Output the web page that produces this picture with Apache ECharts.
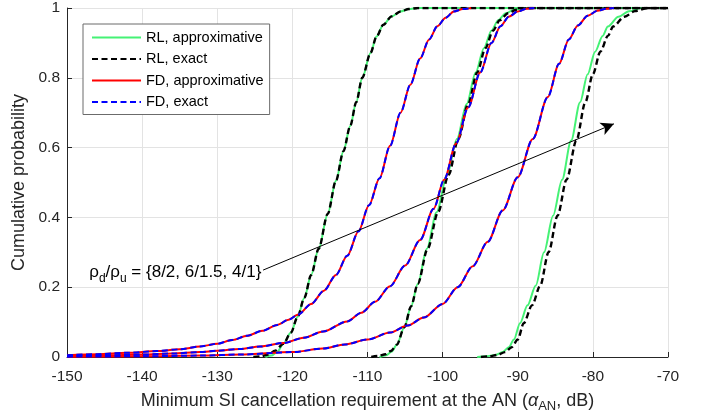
<!DOCTYPE html>
<html>
<head>
<meta charset="utf-8">
<script src="https://cdn.jsdelivr.net/npm/echarts@6/dist/echarts.min.js"></script>
<style>
html, body { margin: 0; padding: 0; background: #fff; }
#chart { width: 706px; height: 418px; }
</style>
</head>
<body>
<div id="chart"></div>
<script>
// axis range
var xMin = -150, xMax = -70, xStep = 10;
var yMin = 0, yMax = 1, yStep = 0.2;

// RL, approximative / exact (steep curves), three power ratios
var rl1X = [-123.6, -122.8, -122.0, -121.2, -120.2, -119.3, -118.4, -117.5, -116.5, -115.3, -114.2, -113.2, -112.3, -111.5, -110.7, -109.6, -108.8, -107.9, -106.8, -105.6, -104.5, -103.3, -70];
var rl1Y = [0, 0.004, 0.015, 0.038, 0.07, 0.115, 0.17, 0.235, 0.31, 0.41, 0.505, 0.59, 0.662, 0.73, 0.80, 0.871, 0.918, 0.952, 0.976, 0.99, 0.997, 1, 1];
var rl1ExX = [-125.2, -124.2, -123.2, -122.3, -121.2, -120.2, -119.3, -118.4, -117.5, -116.5, -115.3, -114.2, -113.2, -112.3, -111.5, -110.7, -109.6, -108.8, -107.9, -106.8, -105.6, -104.5, -103.3, -70];
var rl1ExY = [0, 0.002, 0.007, 0.018, 0.038, 0.07, 0.115, 0.17, 0.235, 0.31, 0.41, 0.505, 0.59, 0.662, 0.73, 0.80, 0.871, 0.918, 0.952, 0.976, 0.99, 0.997, 1, 1];

var rl2X = [-108.4, -107.5, -106.8, -106.1, -105.1, -104.2, -103.3, -102.1, -100.8, -99.4, -98.1, -96.8, -95.6, -94.5, -93.5, -92.6, -91.6, -90.5, -89.0, -70];
var rl2Y = [0, 0.005, 0.015, 0.035, 0.085, 0.145, 0.21, 0.31, 0.415, 0.522, 0.625, 0.725, 0.815, 0.885, 0.935, 0.965, 0.985, 0.995, 1, 1];
var rl2ExX = [-109.5, -108.6, -107.6, -106.9, -106.1, -105.1, -104.2, -103.3, -102.0, -100.6, -99.2, -97.9, -96.6, -95.4, -94.3, -93.3, -92.4, -91.3, -90.2, -88.6, -70];
var rl2ExY = [0, 0.003, 0.008, 0.017, 0.035, 0.085, 0.145, 0.21, 0.31, 0.415, 0.522, 0.625, 0.725, 0.815, 0.885, 0.935, 0.965, 0.985, 0.995, 1, 1];

var rl3X = [-95.4, -94.2, -93.0, -92.0, -91.2, -90.5, -89.7, -88.7, -87.6, -86.5, -85.3, -84.1, -82.9, -81.7, -80.7, -79.7, -78.7, -78.0, -76.6, -75.2, -73.6, -70];
var rl3Y = [0, 0.002, 0.006, 0.014, 0.028, 0.05, 0.097, 0.148, 0.205, 0.3, 0.405, 0.508, 0.62, 0.73, 0.81, 0.875, 0.92, 0.947, 0.975, 0.991, 1, 1];
var rl3ExX = [-94.9, -93.8, -92.7, -91.7, -90.8, -90.0, -89.2, -88.1, -87.0, -85.9, -84.7, -83.5, -82.2, -81.0, -80.0, -79.0, -78.0, -77.3, -75.8, -74.4, -72.8, -70];
var rl3ExY = [0, 0.002, 0.006, 0.014, 0.028, 0.05, 0.097, 0.148, 0.205, 0.3, 0.405, 0.508, 0.62, 0.73, 0.81, 0.875, 0.92, 0.947, 0.975, 0.991, 1, 1];

// FD (approximative and exact overlap)
var fd1X = [-150, -146, -142, -138, -135, -132.3, -130, -128, -126, -124, -122, -120.5, -119.2, -117.5, -115.8, -114.2, -112.7, -111.2, -109.8, -108.4, -107.0, -105.6, -104.3, -103.0, -101.8, -100.7, -99.6, -98.5, -97.3, -96.2];
var fd1Y = [0.005, 0.008, 0.012, 0.017, 0.022, 0.030, 0.038, 0.049, 0.061, 0.075, 0.092, 0.107, 0.122, 0.152, 0.19, 0.235, 0.29, 0.36, 0.435, 0.512, 0.605, 0.70, 0.78, 0.855, 0.91, 0.948, 0.972, 0.99, 0.997, 1];
var fd2X = [-150, -145, -140, -136, -132.3, -130, -127, -124.3, -121.2, -118.5, -115.9, -112.7, -110.8, -109.0, -107.0, -105.0, -103.0, -101.2, -99.8, -98.2, -96.6, -95.0, -93.5, -92.3, -91.2, -90.0, -88.8, -87.8];
var fd2Y = [0.003, 0.005, 0.007, 0.010, 0.014, 0.018, 0.023, 0.03, 0.04, 0.055, 0.073, 0.102, 0.127, 0.158, 0.203, 0.262, 0.335, 0.425, 0.508, 0.612, 0.715, 0.815, 0.90, 0.948, 0.975, 0.99, 0.998, 1];
var fd3X = [-150, -140, -132, -127, -120, -116, -113, -110, -107, -104.7, -102.5, -100, -98, -96, -94, -92, -90, -88, -86, -84.5, -83.2, -82, -80.7, -79.4, -78.2, -77.2];
var fd3Y = [0.001, 0.002, 0.004, 0.007, 0.014, 0.024, 0.036, 0.05, 0.07, 0.09, 0.113, 0.152, 0.2, 0.26, 0.33, 0.42, 0.515, 0.625, 0.745, 0.84, 0.91, 0.95, 0.978, 0.992, 0.998, 1];

// annotation: text anchor and arrow ends (data coords)
var noteAt = [-124.0, 0.2415];
var arrowFrom = [-123.9, 0.249];
var arrowTo = [-77.2, 0.668];

var names = ['RL, approximative', 'RL, exact', 'FD, approximative', 'FD, exact'];
var colors = ['#45f275', '#000000', '#ff0000', '#0000ff'];

function pairs(xs, ys) {
    return xs.map(function (x, i) { return [x, ys[i]]; });
}

function curve(k, data, dashed) {
    return {
        name: names[k],
        type: 'line',
        data: data,
        showSymbol: false,
        symbol: 'none',
        smooth: 0.3,
        smoothMonotone: 'x',
        color: colors[k],
        lineStyle: {
            color: colors[k],
            width: k == 1 ? 2.4 : 2,
            type: dashed ? [6, 3.5] : 'solid'
        },
        emphasis: { disabled: true },
        silent: true
    };
}

var series = [
    curve(0, pairs(rl1X, rl1Y), false),
    curve(0, pairs(rl2X, rl2Y), false),
    curve(0, pairs(rl3X, rl3Y), false),
    curve(1, pairs(rl1ExX, rl1ExY), true),
    curve(1, pairs(rl2ExX, rl2ExY), true),
    curve(1, pairs(rl3ExX, rl3ExY), true),
    curve(2, pairs(fd1X, fd1Y), false),
    curve(2, pairs(fd2X, fd2Y), false),
    curve(2, pairs(fd3X, fd3Y), false),
    curve(3, pairs(fd1X, fd1Y), true),
    curve(3, pairs(fd2X, fd2Y), true),
    curve(3, pairs(fd3X, fd3Y), true)
];

var txt = '#262626';

// arrow + text
series[0].markLine = {
    silent: true,
    symbol: ['none', 'arrow'],
    symbolSize: [10, 13],
    label: { show: false },
    lineStyle: { color: '#000', width: 1, type: 'solid' },
    emphasis: { disabled: true },
    data: [[{ coord: arrowFrom }, { coord: arrowTo }]]
};
series[0].markPoint = {
    silent: true,
    symbol: 'circle',
    symbolSize: 0,
    label: {
        show: true,
        position: 'left',
        distance: 1,
        fontSize: 17,
        lineHeight: 19,
        color: '#000',
        fontFamily: 'Liberation Sans',
        formatter: '{n|ρ}{s|d}{n|/ρ}{s|u}{n| = {8/2, 6/1.5, 4/1}}',
        rich: {
            n: { fontSize: 17, lineHeight: 19, color: '#000', fontFamily: 'Liberation Sans' },
            s: { fontSize: 12, lineHeight: 13, padding: [12, 0, 0, 0], color: '#000', fontFamily: 'Liberation Sans' }
        }
    },
    data: [{ coord: noteAt }]
};

var myChart = echarts.init(document.getElementById('chart'));
option = {
    animation: false,
    backgroundColor: '#fff',
    textStyle: { fontFamily: 'Liberation Sans' },
    grid: { left: 67, right: 38, top: 8, bottom: 61 },
    legend: {
        orient: 'vertical',
        left: 83,
        top: 24,
        data: names,
        itemWidth: 49,
        itemHeight: 14,
        itemGap: 6.5,
        padding: [6, 6, 5, 8],
        backgroundColor: '#fff',
        borderColor: '#6b6b6b',
        borderWidth: 1,
        itemStyle: { opacity: 0 },
        textStyle: { fontSize: 14.5, color: '#000', fontFamily: 'Liberation Sans' },
        selectedMode: false
    },
    xAxis: {
        type: 'value',
        min: xMin,
        max: xMax,
        interval: xStep,
        name: 'Minimum SI cancellation requirement at the AN ({a|α}{s|AN}{n|, dB)}',
        nameLocation: 'middle',
        nameGap: 33,
        nameTextStyle: {
            fontSize: 18,
            lineHeight: 20,
            color: txt,
            rich: {
                a: { fontSize: 18, lineHeight: 20, color: txt, fontStyle: 'italic' },
                s: { fontSize: 13, lineHeight: 14, padding: [10, 0, 0, 0], color: txt },
                n: { fontSize: 18, lineHeight: 20, color: txt }
            }
        },
        axisLine: { onZero: false, lineStyle: { color: txt, width: 1 } },
        axisTick: { inside: true, length: 5, lineStyle: { color: txt } },
        axisLabel: { fontSize: 15.5, color: txt, margin: 12 },
        splitLine: { show: true, lineStyle: { color: '#e3e3e3', width: 1 } }
    },
    yAxis: {
        type: 'value',
        min: yMin,
        max: yMax,
        interval: yStep,
        name: 'Cumulative probability',
        nameLocation: 'middle',
        nameGap: 34,
        nameTextStyle: { fontSize: 18, color: txt },
        axisLine: { show: true, lineStyle: { color: txt, width: 1 } },
        axisTick: { show: true, inside: true, length: 5, lineStyle: { color: txt } },
        axisLabel: { fontSize: 15.5, color: txt, margin: 7 },
        splitLine: { show: true, lineStyle: { color: '#e3e3e3', width: 1 } }
    },
    series: series
};
myChart.setOption(option);
</script>
</body>
</html>
